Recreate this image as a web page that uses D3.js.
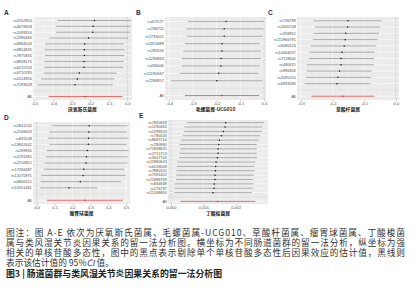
<!DOCTYPE html>
<html>
<head>
<meta charset="utf-8">
<script src="https://cdn.jsdelivr.net/npm/d3@7"></script>
<style>
  html, body { margin: 0; padding: 0; background: #fff; }
  svg { display: block; }
</style>
</head>
<body>
<div id="chart"></div>
<script>
// leave-one-out estimates, rows listed top to bottom
const snpsA = ['rs4702850', 'rs4676858', 'rs1093350', 'rs2396466', 'rs8964544', 'rs6854835',
    'rs7875835', 'rs8908175', 'rs6215703', 'rs6710785', 'rs2014956', 'rs7193628'];
const betaA = [-0.177, -0.184, -0.186, -0.208, -0.229, -0.231, -0.231, -0.233, -0.233, -0.258, -0.269, -0.281];
const lowA = [-0.376, -0.383, -0.383, -0.419, -0.441, -0.446, -0.443, -0.445, -0.445, -0.449, -0.464, -0.482];
const highA = [0.020, 0.016, 0.013, 0.005, -0.018, -0.014, -0.016, -0.019, -0.021, -0.057, -0.070, -0.078];
const allA = [-0.226, -0.423, -0.027];

const snpsB = ['rs457577', 'rs296752', 'rs1733001', 'rs1915889', 'rs283559', 'rs1296863',
    'rs436006', 'rs11195667', 'rs7286957'];
const betaB = [-0.160, -0.168, -0.168, -0.177, -0.177, -0.181, -0.182, -0.191, -0.199];
const lowB = [-0.321, -0.328, -0.326, -0.333, -0.340, -0.347, -0.347, -0.355, -0.392];
const highB = [0.000, -0.003, -0.006, -0.017, -0.014, -0.014, -0.017, -0.024, -0.007];
const allB = [-0.177, -0.333, -0.021];

const snpsC = ['rs736799', 'rs2005708', 'rs358952', 'rs111966791', 'rs6080526', 'rs10464057',
    'rs7118600', 'rs480815', 'rs986303', 'rs2095250', 'rs6993286'];
const betaC = [-0.151, -0.152, -0.158, -0.160, -0.163, -0.170, -0.173, -0.173, -0.178, -0.183, -0.186];
const lowC = [-0.260, -0.255, -0.260, -0.262, -0.268, -0.272, -0.275, -0.281, -0.281, -0.284, -0.288];
const highC = [-0.044, -0.049, -0.053, -0.057, -0.063, -0.067, -0.069, -0.069, -0.076, -0.078, -0.081];
const allC = [-0.167, -0.267, -0.068];

const snpsD = ['rs2841242', 'rs2166643', 'rs831108', 'rs13802642', 'rs289916', 'rs1291381',
    'rs2150851', 'rs17266487', 'rs12075975', 'rs6800551', 'rs10051461'];
const betaD = [0.294, 0.292, 0.290, 0.289, 0.283, 0.278, 0.276, 0.263, 0.259, 0.244, 0.181];
const lowD = [0.087, 0.071, 0.062, 0.071, 0.056, 0.050, 0.043, 0.039, 0.024, 0.022, 0.019];
const highD = [0.507, 0.504, 0.516, 0.504, 0.515, 0.510, 0.507, 0.489, 0.498, 0.470, 0.341];
const allD = [0.269, 0.056, 0.481];

const snpsE = ['rs7845849', 'rs1290461', 'rs2299203', 'rs780503', 'rs8687216', 'rs780990',
    'rs71838625', 'rs2715713', 'rs3647740', 'rs11880643', 'rs6018008', 'rs7880202',
    'rs7581402', 'rs11888769', 'rs834849', 'rs276737', 'rs11338800'];
const betaE = [0.001692, 0.001671, 0.001620, 0.001558, 0.001496, 0.001476, 0.001455, 0.001455, 0.001434,
    0.001393, 0.001380, 0.001372, 0.001360, 0.001360, 0.001341, 0.001330, 0.001300];
const lowE = [0.000485, 0.000413, 0.000413, 0.000361, 0.000310, 0.000258, 0.000280, 0.000258, 0.000258,
    0.000196, 0.000175, 0.000175, 0.000155, 0.000155, 0.000113, 0.000103, 0.000103];
const highE = [0.002879, 0.002826, 0.002806, 0.002755, 0.002714, 0.002652, 0.002652, 0.002652, 0.002652,
    0.002600, 0.002579, 0.002579, 0.002560, 0.002540, 0.002540, 0.002528, 0.002497];
const allE = [0.001445, 0.000300, 0.002610];

const ticksA = [-0.5, -0.4, -0.3, -0.2, -0.1, 0.0];
const ticksB = [-0.4, -0.3, -0.2, -0.1, 0.0];
const ticksC = [-0.3, -0.2, -0.1, 0.0];
const ticksD = [0.0, 0.1, 0.2, 0.3, 0.4, 0.5];
const ticksE = [0.000, 0.001, 0.002];

const titles = ['厌氧斯氏菌属', '毛螺菌属-UCG010', '草酸杆菌属', '瘤胃球菌属', '丁酸梭菌属'];

const captionLines = [
    '图注：图 A-E 依次为厌氧斯氏菌属、毛螺菌属-UCG010、草酸杆菌属、瘤胃球菌属、丁酸梭菌',
    '属与类风湿关节炎因果关系的留一法分析图。横坐标为不同肠道菌群的留一法分析，纵坐标为强',
    '相关的单核苷酸多态性，图中的黑点表示剔除单个单核苷酸多态性后因果效应的估计值，黑线则'
];
const figTitle = '图3 | 肠道菌群与类风湿关节炎因果关系的留一法分析图';

const panels = [
    {tag: 'A', snps: snpsA, beta: betaA, low: lowA, high: highA, all: allA, ticks: ticksA, fmt: '.1f',
        title: titles[0], box: [33, 132, 17, 100], domain: [-0.507, 0.025]},
    {tag: 'B', snps: snpsB, beta: betaB, low: lowB, high: highB, all: allB, ticks: ticksB, fmt: '.1f',
        title: titles[1], box: [165, 266, 17, 100], domain: [-0.417, 0.008]},
    {tag: 'C', snps: snpsC, beta: betaC, low: lowC, high: highC, all: allC, ticks: ticksC, fmt: '.1f',
        title: titles[2], box: [297, 399, 17, 100], domain: [-0.312, 0.010]},
    {tag: 'D', snps: snpsD, beta: betaD, low: lowD, high: highD, all: allD, ticks: ticksD, fmt: '.1f',
        title: titles[3], box: [33, 130, 122, 204], domain: [-0.021, 0.522]},
    {tag: 'E', snps: snpsE, beta: betaE, low: lowE, high: highE, all: allE, ticks: ticksE, fmt: '.3f',
        title: titles[4], box: [168, 268, 120, 204], domain: [-0.0000927, 0.002998]}
];

const cjk = '"Noto Sans CJK SC", sans-serif';
const latin = '"Liberation Sans", Arial, sans-serif';

const svg = d3.select('#chart').append('svg')
    .attr('width', 414)
    .attr('height', 300)
    .attr('viewBox', '0 0 414 300');

svg.append('rect').attr('width', 414).attr('height', 300).attr('fill', '#fff');

panels.forEach(p => {
    const [x0, x1, y0, y1] = p.box;
    const x = d3.scaleLinear().domain(p.domain).range([x0, x1]);
    const levels = [...p.snps, '', 'All'];
    const y = d3.scalePoint().domain(levels).range([y0, y1]).padding(0.6);

    const g = svg.append('g');

    g.append('rect')
        .attr('x', x0).attr('y', y0)
        .attr('width', x1 - x0).attr('height', y1 - y0)
        .attr('fill', '#ebebeb');

    // minor grid
    const minor = p.ticks.slice(0, -1).map((t, i) => (t + p.ticks[i + 1]) / 2);
    minor.unshift(p.ticks[0] - (p.ticks[1] - p.ticks[0]) / 2);
    minor.push(p.ticks[p.ticks.length - 1] + (p.ticks[1] - p.ticks[0]) / 2);
    g.selectAll('.minor')
        .data(minor.filter(v => x(v) > x0 && x(v) < x1))
        .enter().append('line')
        .attr('x1', d => x(d)).attr('x2', d => x(d))
        .attr('y1', y0).attr('y2', y1)
        .attr('stroke', '#fff').attr('stroke-width', 0.3);

    g.selectAll('.major')
        .data(p.ticks)
        .enter().append('line')
        .attr('x1', d => x(d)).attr('x2', d => x(d))
        .attr('y1', y0).attr('y2', y1)
        .attr('stroke', '#fff').attr('stroke-width', 0.6);

    g.selectAll('.hgrid')
        .data(levels)
        .enter().append('line')
        .attr('x1', x0).attr('x2', x1)
        .attr('y1', d => y(d)).attr('y2', d => y(d))
        .attr('stroke', '#fff').attr('stroke-width', 0.6);

    // separator at blank row
    g.append('line')
        .attr('x1', x0).attr('x2', x1)
        .attr('y1', y('')).attr('y2', y(''))
        .attr('stroke', '#bebebe').attr('stroke-width', 0.4);

    // dotted zero line
    g.append('line')
        .attr('x1', x(0)).attr('x2', x(0))
        .attr('y1', y0).attr('y2', y1)
        .attr('stroke', '#555').attr('stroke-width', 0.4)
        .attr('stroke-dasharray', '0.6,0.8');

    const rows = p.snps.map((s, i) => ({snp: s, b: p.beta[i], lo: p.low[i], hi: p.high[i]}));
    rows.push({snp: 'All', b: p.all[0], lo: p.all[1], hi: p.all[2]});

    g.selectAll('.ci')
        .data(rows)
        .enter().append('line')
        .attr('x1', d => x(d.lo)).attr('x2', d => x(d.hi))
        .attr('y1', d => y(d.snp)).attr('y2', d => y(d.snp))
        .attr('stroke', d => d.snp === 'All' ? '#f2453d' : '#6e6e6e')
        .attr('stroke-width', d => d.snp === 'All' ? 0.8 : 0.55);

    g.selectAll('.pt')
        .data(rows)
        .enter().append('circle')
        .attr('cx', d => x(d.b))
        .attr('cy', d => y(d.snp))
        .attr('r', 0.75)
        .attr('fill', d => d.snp === 'All' ? '#c0392b' : '#111');

    g.selectAll('.snp')
        .data(levels.filter(d => d !== ''))
        .enter().append('text')
        .attr('x', x0 - 1.2)
        .attr('y', d => y(d))
        .attr('dy', '0.35em')
        .attr('text-anchor', 'end')
        .attr('font-family', latin)
        .attr('font-size', 3.9)
        .attr('fill', '#4d4d4d')
        .text(d => d);

    const fmt = d3.format(p.fmt);
    const axis = g.append('g')
        .attr('transform', `translate(0,${y1})`)
        .call(d3.axisBottom(x).tickValues(p.ticks).tickSize(1.3).tickPadding(0.6)
            .tickFormat(d => fmt(d).replace('\u2212', '-')));
    axis.select('.domain').remove();
    axis.selectAll('line').attr('stroke', '#333').attr('stroke-width', 0.4);
    axis.selectAll('text')
        .attr('font-family', latin)
        .attr('font-size', 4)
        .attr('fill', '#4d4d4d');

    g.append('text')
        .attr('x', (x0 + x1) / 2)
        .attr('y', y1 + 11)
        .attr('text-anchor', 'middle')
        .attr('font-family', cjk)
        .attr('font-weight', 'bold')
        .attr('font-size', 4.8)
        .attr('fill', '#222')
        .text(p.title);

    g.append('text')
        .attr('x', x0 - 29)
        .attr('y', y0 - 2)
        .attr('font-family', latin)
        .attr('font-weight', 'bold')
        .attr('font-size', 6.5)
        .attr('fill', '#1e2d5a')
        .text(p.tag);
});

// caption
const cap = svg.append('g').attr('font-family', cjk).attr('fill', '#333');
const lineY = d3.scaleLinear().domain([0, 4]).range([236, 276.6]);

cap.selectAll('.cl')
    .data(captionLines)
    .enter().append('text')
    .attr('x', 6)
    .attr('y', (d, i) => lineY(i))
    .attr('font-size', 8.7)
    .attr('textLength', 399)
    .attr('lengthAdjust', 'spacing')
    .text(d => d);

const l4 = cap.append('text')
    .attr('x', 6)
    .attr('y', lineY(3))
    .attr('font-size', 8.7);
l4.append('tspan').text('表示该估计值的 95%');
l4.append('tspan').attr('font-style', 'italic').text('CI');
l4.append('tspan').text(' 值。');

cap.append('text')
    .attr('x', 6)
    .attr('y', lineY(4))
    .attr('font-size', 8.9)
    .attr('font-weight', 'bold')
    .attr('fill', '#222')
    .text(figTitle);
</script>
</body>
</html>
